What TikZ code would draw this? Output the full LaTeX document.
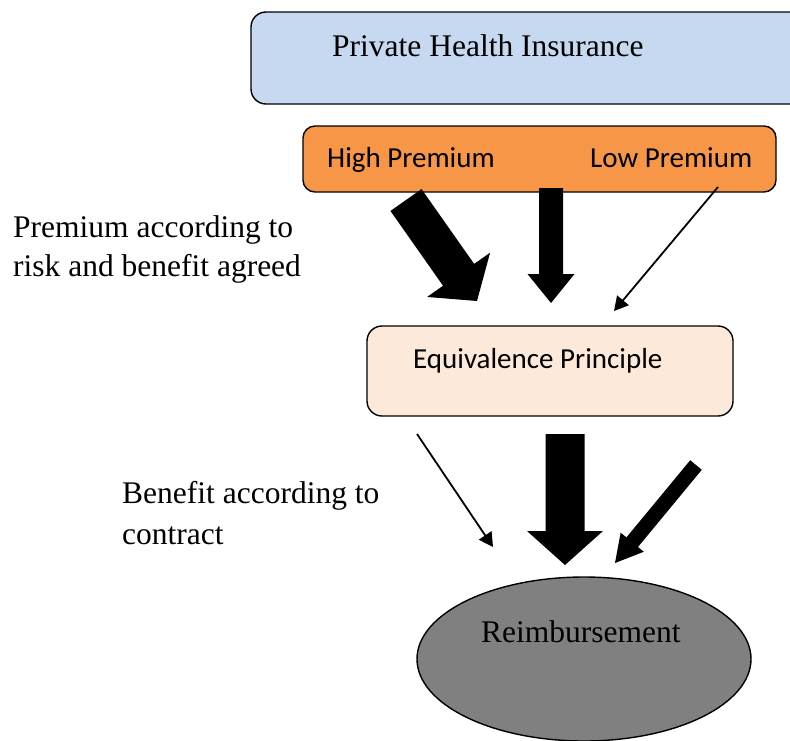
\documentclass[tikz,border=0pt]{standalone}
\usepackage{fontspec}
\setmainfont{Liberation Serif}
\newfontfamily\sanscal{Carlito}
\usetikzlibrary{calc,arrows.meta,shapes.geometric}

\definecolor{topblue}{HTML}{C6D9F1}
\definecolor{orangebox}{HTML}{F79646}
\definecolor{peachbox}{HTML}{FDE9D9}
\definecolor{ellgray}{HTML}{808080}

% block arrow: #1 start, #2 tip, #3 half shaft width, #4 half head width, #5 head length
\newcommand\blockarrow[5]{%
  \coordinate (baheadbase) at ($(#2)!#5!(#1)$);
  \fill[black] ($(#1)!#3!90:(#2)$) -- ($(baheadbase)!#3!-90:(#1)$) -- ($(baheadbase)!#4!-90:(#1)$) -- (#2)
    -- ($(baheadbase)!#4!90:(#1)$) -- ($(baheadbase)!#3!90:(#1)$) -- ($(#1)!#3!-90:(#2)$) -- cycle;
}

\begin{document}
\begin{tikzpicture}[x=1pt,y=-1pt,
  boxbase/.style={draw=black, line width=1.4pt, inner sep=0pt, outer sep=0pt, rectangle},
  serif/.style={inner sep=0pt, anchor=base west, font=\fontsize{31.5pt}{39pt}\selectfont},
  sans/.style={inner sep=0pt, anchor=base west, font=\sanscal\fontsize{29pt}{35pt}\selectfont},
  thinarrow/.style={line width=1.8pt, -{Triangle[length=14pt,width=15pt]}}]
\clip (0,0) rectangle (790,740);
\fill[white] (0,0) rectangle (790,740);

% boxes
\node[boxbase, fill=topblue, rounded corners=15pt, minimum width=580pt, minimum height=92pt, anchor=north west] (phi) at (251,12) {};
\node[boxbase, fill=orangebox, rounded corners=12pt, minimum width=473pt, minimum height=66pt, anchor=north west] (prem) at (303,126) {};
\node[boxbase, fill=peachbox, rounded corners=15pt, minimum width=366pt, minimum height=90pt, anchor=north west] (equiv) at (367,326) {};
\node[draw=black, line width=1.4pt, fill=ellgray, ellipse, inner sep=0pt, minimum width=334pt, minimum height=164pt] (reimb) at (584,659) {};

% texts
\node[serif] (tphi) at (332,56) {Private Health Insurance};
\node[sans] (thigh) at (327,167) {High Premium};
\node[sans] (tlow) at (590,167) {Low Premium};
\node[sans] (tequiv) at (413,368) {Equivalence Principle};
\node[serif] (treimb) at (481,642) {Reimbursement};
\node[serif] (tp1) at (13,237) {Premium according to};
\node[serif] (tp2) at (13,276) {risk and benefit agreed};
\node[serif] (tb1) at (122,503) {Benefit according to};
\node[serif] (tb2) at (122,544) {contract};

% connector end points
\coordinate (a1s) at (406,200);
\coordinate (a1e) at (477,301);
\coordinate (a2s) at (551,188);
\coordinate (a2e) at (551,303);
\coordinate (t1s) at (718,187);
\coordinate (t1e) at (614,311);
\coordinate (t2s) at (417,434);
\coordinate (t2e) at (493,547);
\coordinate (a3s) at (565,434);
\coordinate (a3e) at (565,565);
\coordinate (a4s) at (696,465);
\coordinate (a4e) at (615,563);

% arrows
\blockarrow{a1s}{a1e}{19pt}{38.5pt}{32pt}
\blockarrow{a2s}{a2e}{12pt}{23.5pt}{29pt}
\blockarrow{a3s}{a3e}{19.5pt}{38pt}{34pt}
\blockarrow{a4s}{a4e}{7.5pt}{15pt}{27pt}
\draw[thinarrow] (t1s) -- (t1e);
\draw[thinarrow] (t2s) -- (t2e);
\end{tikzpicture}
\end{document}
